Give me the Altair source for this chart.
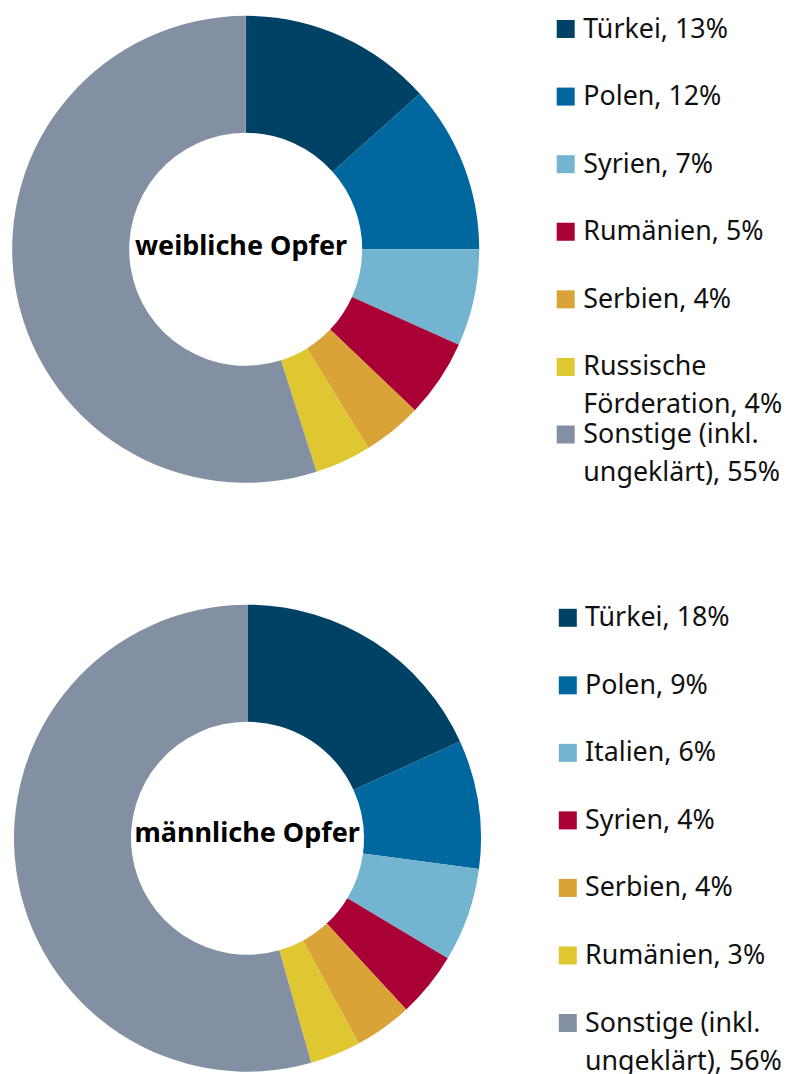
import altair as alt
import pandas as pd

# ---- data ----
cats_f = ["Türkei", "Polen", "Syrien", "Rumänien", "Serbien",
          "Russische Förderation", "Sonstige (inkl. ungeklärt)"]
shares_f = [13.4, 11.6, 6.7, 5.4, 4.1, 3.9, 54.9]
labels_f = ["Türkei, 13%", "Polen, 12%", "Syrien, 7%", "Rumänien, 5%",
            "Serbien, 4%", "Russische\nFörderation, 4%",
            "Sonstige (inkl.\nungeklärt), 55%"]

cats_m = ["Türkei", "Polen", "Italien", "Syrien", "Serbien", "Rumänien",
          "Sonstige (inkl. ungeklärt)"]
shares_m = [18.2, 8.9, 6.5, 4.5, 4.0, 3.5, 54.4]
labels_m = ["Türkei, 18%", "Polen, 9%", "Italien, 6%", "Syrien, 4%",
            "Serbien, 4%", "Rumänien, 3%", "Sonstige (inkl.\nungeklärt), 56%"]

palette = ["#004266", "#00679f", "#73b4d1", "#a90036", "#d9a337", "#dfc731", "#8390a4"]
titles = ["weibliche Opfer", "männliche Opfer"]

FONT = "Noto Sans"


def frame(cats, shares, labels):
    return pd.DataFrame({
        "cat": cats,
        "share": shares,
        "label": labels,
        "rank": list(range(len(cats))),
    })


df_f = frame(cats_f, shares_f, labels_f)
df_m = frame(cats_m, shares_m, labels_m)

color = alt.Color("rank:O", scale=alt.Scale(domain=list(range(7)), range=palette), legend=None)


def donut(df, cx, cy):
    return alt.Chart(df).mark_arc(outerRadius=233.5, innerRadius=116.5).encode(
        theta=alt.Theta("share:Q", stack=True),
        order=alt.Order("rank:Q"),
        color=color,
        x=alt.value(cx),
        y=alt.value(cy),
    )


def center_text(title, cx, cy):
    return alt.Chart(pd.DataFrame({"t": [title]})).mark_text(
        font=FONT, fontSize=27, fontWeight="bold", color="#000000",
        align="center", baseline="alphabetic"
    ).encode(text="t:N", x=alt.value(cx), y=alt.value(cy))


def legend(df, y0, y1, xs, xt):
    yenc = alt.Y("rank:Q", scale=alt.Scale(domain=[0, 6], range=[y0, y1]), axis=None)
    sq = alt.Chart(df).mark_square(size=324, opacity=1).encode(
        x=alt.value(xs), y=yenc, color=color
    )
    tx = alt.Chart(df).mark_text(
        font=FONT, fontSize=26.8, align="left", baseline="top", dy=-12.5,
        lineBreak="\n", lineHeight=38, color="#111111"
    ).encode(x=alt.value(xt), y=yenc, text="label:N")
    return sq, tx


sq_f, tx_f = legend(df_f, 21, 426.5, 557.7, 575.3)
sq_m, tx_m = legend(df_m, 609.8, 1015, 559.8, 577)

chart = alt.layer(
    donut(df_f, 237.7, 241.3),
    donut(df_m, 239.5, 830.2),
    center_text(titles[0], 233, 247),
    center_text(titles[1], 239.2, 833.7),
    sq_f, tx_f, sq_m, tx_m,
).resolve_scale(y="independent").properties(
    width=774, height=1066, autosize=alt.AutoSizeParams(type="none"), padding=0
).configure_view(stroke=None)

chart.save("out.html", embed_options={"renderer": "svg", "actions": False})
